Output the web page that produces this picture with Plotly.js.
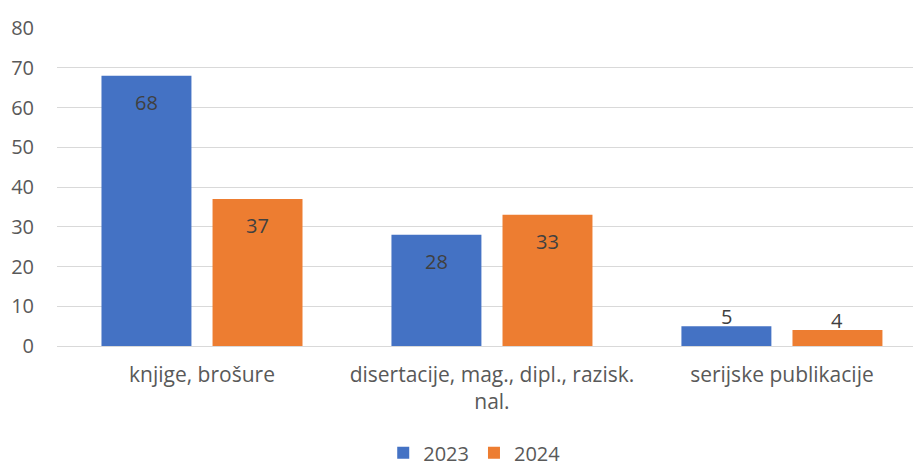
<!DOCTYPE html>
<html><head><meta charset="utf-8">
<script src="https://cdn.plot.ly/plotly-3.0.1.min.js"></script>
<style>html,body{margin:0;padding:0;background:#fff}#c{width:913px;height:466px}</style>
</head><body><div id="c"></div>
<script>
const categories = ["knjige, brošure", "disertacije, mag., dipl., razisk.<br>nal.", "serijske publikacije"];
const series2023 = [68, 28, 5];
const series2024 = [37, 33, 4];
const seriesNames = ["2023", "2024"];
const yTicks = [0, 10, 20, 30, 40, 50, 60, 70, 80];

const FONT = "Open Sans, Liberation Sans, Arial, sans-serif";
const colors = ["#4472C4", "#ED7D31"];
const BARGAP = 0.234, GROUPGAP = 0.19;
const allSeries = [series2023, series2024];

const data = allSeries.map((vals, i) => ({
  type: "bar", name: seriesNames[i], x: categories, y: vals,
  marker: {color: colors[i]}, hoverinfo: "none"
}));

// data labels: inside end for tall bars, just above for short ones
const slot = (1 - BARGAP) / allSeries.length;
const annotations = [];
allSeries.forEach((vals, i) => {
  const off = -(1 - BARGAP) / 2 + slot * (i + 0.5);
  vals.forEach((v, j) => {
    const inside = v > 10;
    annotations.push({
      xref: "x", yref: "y", x: j + off, y: v, text: String(v),
      showarrow: false, yanchor: "middle", yshift: inside ? -27 : 10,
      font: {family: FONT, size: 20, color: "#404040"}
    });
  });
});

const layout = {
  width: 913, height: 466,
  margin: {l: 57, r: 0, t: 28, b: 120, autoexpand: false},
  paper_bgcolor: "#fff", plot_bgcolor: "#fff",
  font: {family: FONT, size: 20, color: "#595959"},
  barmode: "group", bargap: BARGAP, bargroupgap: GROUPGAP,
  showlegend: true,
  annotations: annotations,
  legend: {orientation: "h", x: 0.488, xanchor: "center", y: -0.336, yanchor: "middle",
           font: {family: FONT, size: 20, color: "#595959"}, traceorder: "normal"},
  xaxis: {type: "category", range: [-0.5, 2.452], showgrid: false, zeroline: false, showline: false,
          ticks: "", tickangle: 0, ticklabelstandoff: 14, tickfont: {family: FONT, size: 21, color: "#595959"}},
  yaxis: {range: [0, 80], tickvals: yTicks, showgrid: true, gridcolor: "#d9d9d9", gridwidth: 1,
          zeroline: true, zerolinecolor: "#d9d9d9", zerolinewidth: 1, showline: false, ticks: "",
          ticklabelstandoff: 22, tickfont: {family: FONT, size: 20, color: "#595959"}}
};
Plotly.newPlot("c", data, layout, {staticPlot: true, displayModeBar: false});
</script></body></html>
